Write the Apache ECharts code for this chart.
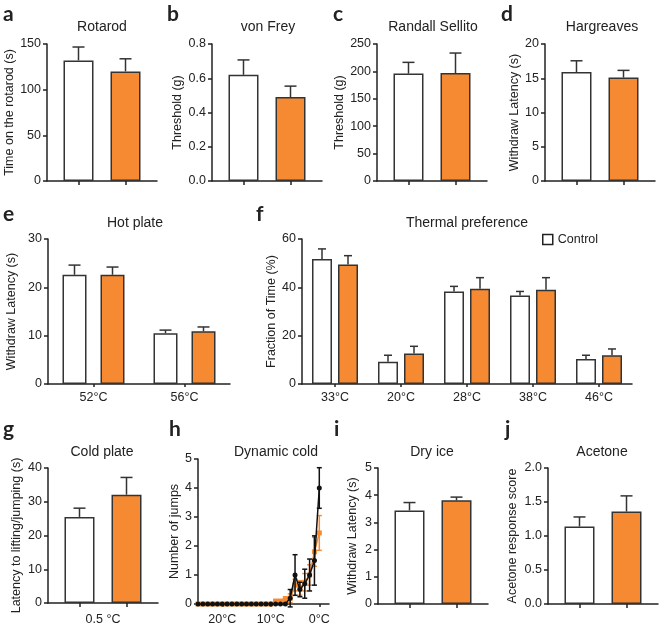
<!DOCTYPE html>
<html>
<head>
<meta charset="utf-8">
<script src="https://cdn.jsdelivr.net/npm/echarts@6/dist/echarts.min.js"></script>
<style>
  html, body { margin: 0; padding: 0; background: #fff; }
  #chart { width: 660px; height: 626px; }
</style>
</head>
<body>
<div id="chart"></div>
<script>
// Données (blanc = contrôle, orange = traité)
const groups = ["Control", "Treatment"];
const rotarod = [132, 120];
const rotarodErr = [14.7, 13.8];
const vonFrey = [0.62, 0.49];
const vonFreyErr = [0.087, 0.064];
const randall = [196, 197];
const randallErr = [20.5, 36.5];
const hargreaves = [15.9, 15.1];
const hargreavesErr = [1.65, 1.05];

const hotPlateCats = ["52°C", "56°C"];
const hotPlateCtrl = [22.6, 10.5];
const hotPlateCtrlErr = [2.0, 0.65];
const hotPlateTrt = [22.6, 10.9];
const hotPlateTrtErr = [1.6, 0.9];

const thermalCats = ["33°C", "20°C", "28°C", "38°C", "46°C"];
const thermalCtrl = [51.7, 9.2, 38.3, 36.6, 10.3];
const thermalCtrlErr = [4.2, 2.7, 2.1, 1.7, 1.6];
const thermalTrt = [49.4, 12.6, 39.4, 39.0, 11.9];
const thermalTrtErr = [3.7, 3.0, 4.6, 5.0, 2.6];

const coldPlateCat = ["0.5 °C"];
const coldPlate = [25.5, 32.1];
const coldPlateErr = [2.6, 5.1];

const coldTemps = [25, 24, 23, 22, 21, 20, 19, 18, 17, 16, 15, 14, 13, 12, 11, 10, 9, 8, 7, 6, 5, 4, 3, 2, 1, 0];
const coldCtrl = [0, 0, 0, 0, 0, 0, 0, 0, 0, 0, 0, 0, 0, 0, 0, 0, 0, 0, 0, 0.2, 1.0, 0.5, 0.7, 1.0, 1.5, 4.0];
const coldCtrlErr = [0, 0, 0, 0, 0, 0, 0, 0, 0, 0, 0, 0, 0, 0, 0, 0, 0, 0, 0, 0.3, 0.7, 0.25, 0.5, 0.55, 0.85, 0.7];
const coldTrt = [0, 0, 0, 0, 0, 0, 0, 0, 0, 0, 0, 0, 0, 0, 0, 0, 0.1, 0.1, 0.15, 0.2, 0.65, 0.55, 0.75, 1.0, 1.8, 2.45];
const coldTrtErr = [0, 0, 0, 0, 0, 0, 0, 0, 0, 0, 0, 0, 0, 0, 0, 0, 0.05, 0.05, 0.1, 0.15, 0.2, 0.25, 0.3, 0.35, 0.5, 0.6];
const coldTicks = [20, 10, 0];

const dryIce = [3.44, 3.81];
const dryIceErr = [0.29, 0.12];
const acetone = [1.14, 1.36];
const acetoneErr = [0.14, 0.23];

const FONT = "Liberation Sans";
const INK = "#222";
const ORANGE = "#F68A32";
const barColors = ["#ffffff", ORANGE];

const grids = [];
const xAxes = [];
const yAxes = [];
const series = [];
const graphics = [];

// Barre d'erreur (haut seulement, ou haut + bas)
function errorBar(capHalf, offset, both, color) {
  return function (params, api) {
    var x = api.value(0);
    var v = api.value(1);
    var e = api.value(2);
    if (!e) return;
    var hi = api.coord([x, v + e]);
    var lo = api.coord([x, both ? v - e : v]);
    var cx = hi[0] + offset;
    var style = { stroke: color, lineWidth: 1.5, fill: null };
    var children = [
      { type: "line", shape: { x1: cx, y1: hi[1], x2: cx, y2: lo[1] }, style: style },
      { type: "line", shape: { x1: cx - capHalf, y1: hi[1], x2: cx + capHalf, y2: hi[1] }, style: style },
    ];
    if (both) {
      children.push({ type: "line", shape: { x1: cx - capHalf, y1: lo[1], x2: cx + capHalf, y2: lo[1] }, style: style });
    }
    return { type: "group", children: children };
  };
}

function yAxis(gi, max, interval, name, nameGap, decimals) {
  return {
    gridIndex: gi,
    type: "value",
    min: 0,
    max: max,
    interval: interval,
    name: name,
    nameLocation: "middle",
    nameGap: nameGap,
    nameTextStyle: { fontFamily: FONT, fontSize: 12.5, color: INK },
    axisLine: { show: true, onZero: false, lineStyle: { color: INK, width: 1.5 } },
    axisTick: { show: true, length: 4, lineStyle: { color: INK, width: 1.5 } },
    axisLabel: {
      margin: 6,
      fontFamily: FONT,
      fontSize: 12.5,
      color: INK,
      formatter: function (v) { return decimals ? v.toFixed(decimals) : String(v); },
    },
    splitLine: { show: false },
  };
}

function addText(x, y, text, font, align) {
  graphics.push({
    type: "text",
    x: x,
    y: y,
    style: { text: text, font: font, fill: INK, align: align || "center", verticalAlign: "middle" },
  });
}

// Panneau à deux barres (blanc / orange)
function twoBarPanel(left, top, height, vals, errs, max, interval, name, nameGap, decimals, catLabel) {
  var gi = grids.length;
  grids.push({ left: left, top: top, width: 110, height: height });
  xAxes.push({
    gridIndex: gi,
    type: "value",
    min: -0.67,
    max: 1.67,
    axisLine: { show: true, onZero: false, lineStyle: { color: INK, width: 1.5 } },
    axisTick: { show: true, length: 4, customValues: [0, 1], lineStyle: { color: INK, width: 1.5 } },
    axisLabel: catLabel
      ? { show: true, customValues: [0.5], margin: 10, fontFamily: FONT, fontSize: 12.5, color: INK, formatter: function () { return catLabel; } }
      : { show: false },
    splitLine: { show: false },
  });
  yAxes.push(yAxis(gi, max, interval, name, nameGap, decimals));
  series.push({
    type: "bar",
    xAxisIndex: gi,
    yAxisIndex: gi,
    barWidth: 30,
    itemStyle: { borderColor: "#333", borderWidth: 1.5 },
    data: vals.map(function (v, i) {
      return { name: groups[i], value: [i, v], itemStyle: { color: barColors[i] } };
    }),
  });
  series.push({
    type: "custom",
    xAxisIndex: gi,
    yAxisIndex: gi,
    z: 5,
    renderItem: errorBar(6, 0, false, "#333"),
    data: vals.map(function (v, i) { return [i, v, errs[i]]; }),
  });
}

// Panneau groupé par catégorie
function groupedPanel(left, top, width, height, cats, ctrl, ctrlErr, trt, trtErr, barW, gapPx, cap, max, interval, name, nameGap) {
  var gi = grids.length;
  grids.push({ left: left, top: top, width: width, height: height });
  xAxes.push({
    gridIndex: gi,
    type: "category",
    data: cats,
    axisLine: { show: true, lineStyle: { color: INK, width: 1.5 } },
    axisTick: { show: true, alignWithLabel: true, length: 3, lineStyle: { color: INK, width: 1.5 } },
    axisLabel: { margin: 7, fontFamily: FONT, fontSize: 12.5, color: INK },
  });
  yAxes.push(yAxis(gi, max, interval, name, nameGap, 0));
  var off = (barW + gapPx) / 2;
  [[ctrl, ctrlErr, barColors[0], groups[0], -off], [trt, trtErr, barColors[1], groups[1], off]].forEach(function (s) {
    series.push({
      type: "bar",
      name: s[3],
      xAxisIndex: gi,
      yAxisIndex: gi,
      barWidth: barW,
      barGap: (gapPx / barW) * 100 + "%",
      itemStyle: { color: s[2], borderColor: "#333", borderWidth: 1.5 },
      data: s[0],
    });
  });
  [[ctrl, ctrlErr, -off], [trt, trtErr, off]].forEach(function (s) {
    series.push({
      type: "custom",
      xAxisIndex: gi,
      yAxisIndex: gi,
      z: 5,
      renderItem: errorBar(cap, s[2], false, "#333"),
      data: s[0].map(function (v, i) { return [i, v, s[1][i]]; }),
    });
  });
}

// a-d
twoBarPanel(47, 44, 137, rotarod, rotarodErr, 150, 50, "Time on the rotarod (s)", 27, 0);
twoBarPanel(212, 44, 137, vonFrey, vonFreyErr, 0.8, 0.2, "Threshold (g)", 28, 1);
twoBarPanel(377, 44, 137, randall, randallErr, 250, 50, "Threshold (g)", 28, 0);
twoBarPanel(545, 44, 137, hargreaves, hargreavesErr, 20, 5, "Withdraw Latency (s)", 24, 0);

// e, f
groupedPanel(48, 239, 182, 145, hotPlateCats, hotPlateCtrl, hotPlateCtrlErr, hotPlateTrt, hotPlateTrtErr, 24, 14, 6, 30, 10, "Withdraw Latency (s)", 30);
groupedPanel(302, 239, 330, 145, thermalCats, thermalCtrl, thermalCtrlErr, thermalTrt, thermalTrtErr, 20, 6, 4, 60, 20, "Fraction of Time (%)", 20);

// g
twoBarPanel(48, 468, 136, coldPlate, coldPlateErr, 40, 10, "Latency to lifting/jumping (s)", 25, 0, coldPlateCat[0]);

// h : dynamic cold (courbes)
(function () {
  var gi = grids.length;
  grids.push({ left: 198, top: 459, width: 131, height: 145 });
  xAxes.push({
    gridIndex: gi,
    type: "value",
    min: -2,
    max: 25,
    inverse: true,
    axisLine: { show: true, onZero: false, lineStyle: { color: INK, width: 1.5 } },
    axisTick: { show: true, length: 3, customValues: coldTicks, lineStyle: { color: INK, width: 1.5 } },
    axisLabel: {
      customValues: coldTicks,
      margin: 9,
      fontFamily: FONT,
      fontSize: 12.5,
      color: INK,
      formatter: function (v) { return v + "°C"; },
    },
    splitLine: { show: false },
  });
  yAxes.push(yAxis(gi, 5, 1, "Number of jumps", 16, 0));
  series.push({
    type: "line",
    xAxisIndex: gi,
    yAxisIndex: gi,
    symbol: "rect",
    symbolSize: 5,
    z: 2,
    lineStyle: { color: ORANGE, width: 1.5 },
    itemStyle: { color: ORANGE },
    data: coldTemps.map(function (t, i) { return [t, coldTrt[i]]; }),
  });
  series.push({
    type: "custom",
    xAxisIndex: gi,
    yAxisIndex: gi,
    z: 2,
    renderItem: errorBar(2.5, 0, true, ORANGE),
    data: coldTemps.map(function (t, i) { return [t, coldTrt[i], coldTrtErr[i]]; }),
  });
  series.push({
    type: "line",
    xAxisIndex: gi,
    yAxisIndex: gi,
    symbol: "circle",
    symbolSize: 5,
    z: 4,
    lineStyle: { color: "#111", width: 1.5 },
    itemStyle: { color: "#111" },
    data: coldTemps.map(function (t, i) { return [t, coldCtrl[i]]; }),
  });
  series.push({
    type: "custom",
    xAxisIndex: gi,
    yAxisIndex: gi,
    z: 4,
    renderItem: errorBar(2.5, 0, true, "#111"),
    data: coldTemps.map(function (t, i) { return [t, coldCtrl[i], coldCtrlErr[i]]; }),
  });
})();

// i, j
twoBarPanel(378, 468, 136, dryIce, dryIceErr, 5, 1, "Withdraw Latency (s)", 19, 0);
twoBarPanel(548, 468, 136, acetone, acetoneErr, 2, 0.5, "Acetone response score", 29, 1);

// Titres des panneaux
var titleFont = "14px " + FONT;
addText(102, 27, "Rotarod", titleFont);
addText(268, 27, "von Frey", titleFont);
addText(433, 27, "Randall Sellito", titleFont);
addText(602, 27, "Hargreaves", titleFont);
addText(135, 223, "Hot plate", titleFont);
addText(467, 223, "Thermal preference", titleFont);
addText(102, 452, "Cold plate", titleFont);
addText(276, 452, "Dynamic cold", titleFont);
addText(432, 452, "Dry ice", titleFont);
addText(602, 452, "Acetone", titleFont);

// Lettres
var letterFont = "bold 21px Lato";
[["a", 3, 14], ["b", 167, 14], ["c", 333, 14], ["d", 501, 14],
 ["e", 3, 214], ["f", 256, 214],
 ["g", 3, 429], ["h", 169, 429], ["i", 334, 429], ["j", 505, 429]].forEach(function (l) {
  addText(l[1], l[2], l[0], letterFont, "left");
});

var chart = echarts.init(document.getElementById("chart"), null, { renderer: "canvas" });
chart.setOption({
  animation: false,
  backgroundColor: "#fff",
  textStyle: { fontFamily: FONT },
  legend: {
    data: ["Control"],
    left: 537,
    top: 228,
    icon: "rect",
    itemWidth: 10,
    itemHeight: 10,
    selectedMode: false,
    itemStyle: { color: "#fff", borderColor: "#222", borderWidth: 1.5 },
    textStyle: { fontFamily: FONT, fontSize: 12.5, color: INK },
  },
  grid: grids,
  xAxis: xAxes,
  yAxis: yAxes,
  series: series,
  graphic: graphics,
});
</script>
</body>
</html>
